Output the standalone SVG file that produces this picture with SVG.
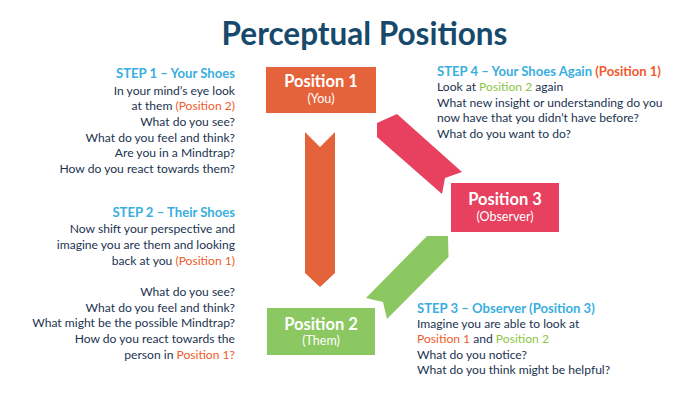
<svg xmlns="http://www.w3.org/2000/svg" width="700" height="400" viewBox="0 0 700 400">
<style>
.t{font-family:Lato,"Open Sans",sans-serif;font-size:12.1px;fill:#1b3350}
.h{font-family:Lato,"Open Sans",sans-serif;font-size:13.1px;font-weight:bold;fill:#3aaee0}
.o{fill:#ef5b2c}
.g{fill:#8cc63f}
.bt{font-family:Lato,"Open Sans",sans-serif;font-weight:bold;font-size:16.5px;fill:#fff;text-anchor:middle}
.bs{font-family:Lato,"Open Sans",sans-serif;font-size:12.5px;fill:#fff;text-anchor:middle}
.r{text-anchor:end}
</style>
<rect width="700" height="400" fill="#fff"/>
<text x="364.5" y="45" text-anchor="middle" font-family="Lato,'Open Sans',sans-serif" font-weight="bold" font-size="31.5" fill="#16496b">Perceptual Positions</text>
<g id="connectors">
<polygon points="305,132 320,147 335,132 335,273 320,287 305,273" fill="#e5633a"/>
<polygon points="377,123 397,114 462,172 445,178 442,194 377,137" fill="#e8405f"/>
<polygon points="366,298 427,236 448,236 448.5,257 387,319 383,302" fill="#8cc862"/>
</g>
<g id="position1">
<rect x="266" y="67" width="110" height="46" fill="#e5633a"/>
<text class="bt" x="321" y="87">Position 1</text>
<text class="bs" x="321" y="103">(You)</text>
</g>
<g id="position2">
<rect x="267" y="308" width="108" height="47" fill="#8cc862"/>
<text class="bt" x="321" y="330">Position 2</text>
<text class="bs" x="321" y="345">(Them)</text>
</g>
<g id="position3">
<rect x="451" y="183" width="108" height="49" fill="#e8405f"/>
<text class="bt" x="505" y="205">Position 3</text>
<text class="bs" x="505" y="221">(Observer)</text>
</g>
<g id="step1">
<text class="h r" x="235" y="78">STEP 1 – Your Shoes</text>
<text class="t r" x="235" y="94.5">In your mind’s eye look</text>
<text class="t r" x="235" y="110">at them <tspan class="o">(Position 2)</tspan></text>
<text class="t r" x="235" y="126">What do you see?</text>
<text class="t r" x="235" y="141.7">What do you feel and think?</text>
<text class="t r" x="235" y="157.3">Are you in a Mindtrap?</text>
<text class="t r" x="235" y="173.3">How do you react towards them?</text>
</g>
<g id="step2">
<text class="h r" x="235" y="216.7">STEP 2 – Their Shoes</text>
<text class="t r" x="235" y="233.3">Now shift your perspective and</text>
<text class="t r" x="235" y="249">imagine you are them and looking</text>
<text class="t r" x="235" y="264.5">back at you <tspan class="o">(Position 1)</tspan></text>
<text class="t r" x="235" y="296">What do you see?</text>
<text class="t r" x="235" y="311.7">What do you feel and think?</text>
<text class="t r" x="235" y="327.3">What might be the possible Mindtrap?</text>
<text class="t r" x="235" y="342.7">How do you react towards the</text>
<text class="t r" x="235" y="358.7">person in <tspan class="o">Position 1?</tspan></text>
</g>
<g id="step4">
<text class="h" x="437" y="76">STEP 4 – Your Shoes Again <tspan class="o">(Position 1)</tspan></text>
<text class="t" x="437" y="90.7">Look at <tspan class="g">Position 2</tspan> again</text>
<text class="t" x="437" y="106.7">What new insight or understanding do you</text>
<text class="t" x="437" y="122.3">now have that you didn’t have before?</text>
<text class="t" x="437" y="137.7">What do you want to do?</text>
</g>
<g id="step3">
<text class="h" x="417" y="312.7">STEP 3 – Observer (Position 3)</text>
<text class="t" x="417" y="327.7">Imagine you are able to look at</text>
<text class="t" x="417" y="343.3"><tspan class="o">Position 1</tspan> and <tspan class="g">Position 2</tspan></text>
<text class="t" x="417" y="359">What do you notice?</text>
<text class="t" x="417" y="374.3">What do you think might be helpful?</text>
</g>
</svg>
